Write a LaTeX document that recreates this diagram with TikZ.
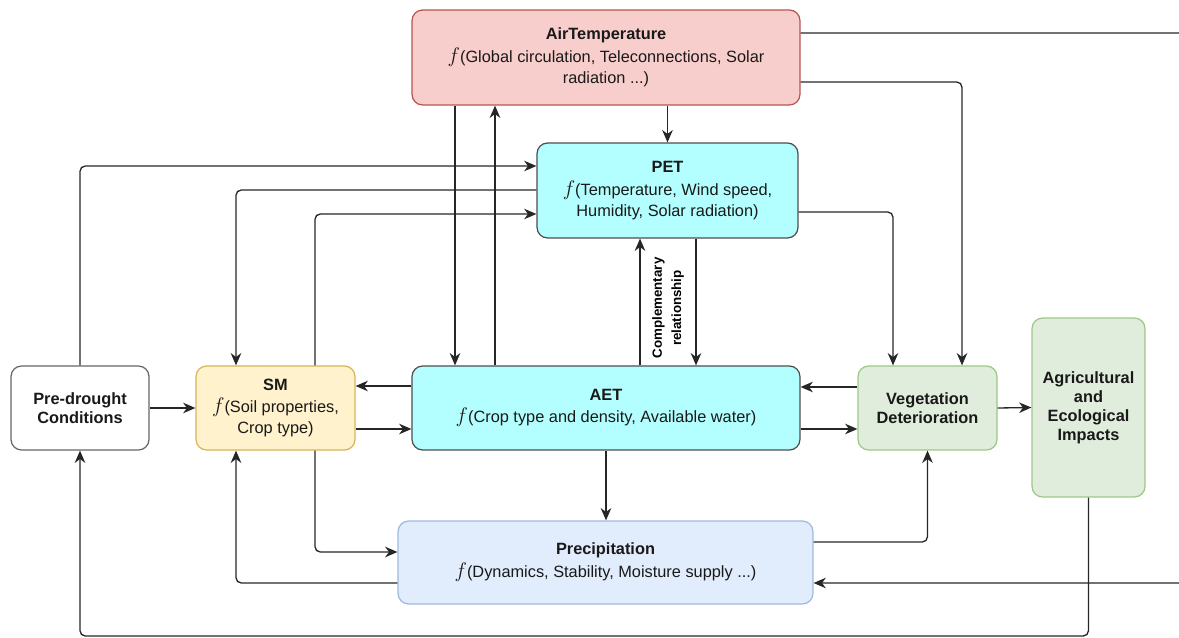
\documentclass[tikz,border=0pt]{standalone}
\usepackage{fontspec}
\setmainfont{Liberation Sans}
\usetikzlibrary{arrows.meta}

\definecolor{tempfill}{HTML}{F8CECC}
\definecolor{templine}{HTML}{B85450}
\definecolor{etfill}{HTML}{B3FFFF}
\definecolor{etline}{HTML}{4D4D4D}
\definecolor{smfill}{HTML}{FFF2CC}
\definecolor{smline}{HTML}{D6B656}
\definecolor{vegfill}{HTML}{E1EDDC}
\definecolor{vegline}{HTML}{9CC786}
\definecolor{precfill}{HTML}{E1ECFC}
\definecolor{precline}{HTML}{9FB8DF}

\newcommand{\fn}{{\fontsize{12.5}{11.5}\selectfont$f$}}

\begin{document}
\begin{tikzpicture}[x=0.02cm,y=-0.02cm,
  box/.style={draw, rounded corners=6pt, line width=0.7pt, align=center, inner sep=0pt,
    text=black!90, font=\fontsize{9.3}{12}\selectfont},
  link/.style={->,>={Stealth[length=7pt,width=6pt,inset=2.2pt]}, line width=0.75pt, rounded corners=3pt, black!85}]
\useasboundingbox (0,0) rectangle (1179,638);
\clip (0,0) rectangle (1179,638);

% boxes
\node[box, fill=tempfill, draw=templine, minimum width=7.76cm, minimum height=1.9cm] (airtemp) at (606,57.5)
  {\textbf{AirTemperature}\\[1pt] \fn(Global circulation, Teleconnections, Solar\\radiation ...)};
\node[box, fill=etfill, draw=etline, minimum width=5.22cm, minimum height=1.9cm] (pet) at (667.5,190.5)
  {\textbf{PET}\\[1pt] \fn(Temperature, Wind speed,\\Humidity, Solar radiation)};
\node[box, fill=white, draw=black!60, minimum width=2.76cm, minimum height=1.68cm,
  font=\fontsize{9.3}{10.8}\selectfont] (predrought) at (80,408)
  {\textbf{Pre-drought}\\\textbf{Conditions}};
\node[box, fill=smfill, draw=smline, minimum width=3.18cm, minimum height=1.68cm] (sm) at (275.5,408)
  {\textbf{SM}\\[1pt] \fn(Soil properties,\\Crop type)};
\node[box, fill=etfill, draw=etline, minimum width=7.76cm, minimum height=1.68cm] (aet) at (606,408)
  {\textbf{AET}\\[1pt] \fn(Crop type and density, Available water)};
\node[box, fill=vegfill, draw=vegline, minimum width=2.78cm, minimum height=1.68cm,
  font=\fontsize{9.3}{10.8}\selectfont] (veg) at (927.5,408)
  {\textbf{Vegetation}\\\textbf{Deterioration}};
\node[box, fill=vegfill, draw=vegline, minimum width=2.26cm, minimum height=3.58cm,
  font=\fontsize{9.3}{10.8}\selectfont] (impacts) at (1088.5,407.5)
  {\textbf{Agricultural}\\\textbf{and}\\\textbf{Ecological}\\\textbf{Impacts}};
\node[box, fill=precfill, draw=precline, minimum width=8.3cm, minimum height=1.66cm] (precip) at (605.5,562.5)
  {\textbf{Precipitation}\\[1pt] \fn(Dynamics, Stability, Moisture supply ...)};
\node[rotate=90, align=center, font=\fontsize{7.6}{11}\selectfont\bfseries, text=black] (complabel) at (668,308)
  {Complementary\\relationship};

\coordinate (toprail) at (1195,300);
\coordinate (bottomrail) at (600,636);

% air temperature links
\draw[link] (airtemp.south -| pet.north) -- (pet.north);
\draw[link] (455,0 |- airtemp.south) -- (455,0 |- aet.north);
\draw[link] (495,0 |- aet.north) -- (495,0 |- airtemp.south);
\draw[link] (airtemp.east |- 0,33) -| (toprail) |- (precip.east |- 0,583);
\draw[link] (airtemp.east |- 0,82) -| (962,0 |- veg.north);

% PET links
\draw[link] (predrought.north) |- (pet.west |- 0,166);
\draw[link] (pet.west |- 0,190) -| (236,0 |- sm.north);
\draw[link] (315,0 |- sm.north) |- (pet.west |- 0,214);
\draw[link] (pet.east |- 0,212) -| (893,0 |- veg.north);
\draw[link] (640,0 |- aet.north) -- (640,0 |- pet.south);
\draw[link] (696,0 |- pet.south) -- (696,0 |- aet.north);

% middle row
\draw[link] (predrought.east) -- (sm.west);
\draw[link] (aet.west |- 0,386) -- (sm.east |- 0,386);
\draw[link] (sm.east |- 0,429) -- (aet.west |- 0,429);
\draw[link] (veg.west |- 0,387) -- (aet.east |- 0,387);
\draw[link] (aet.east |- 0,429) -- (veg.west |- 0,429);
\draw[link] (veg.east) -- (impacts.west);

% precipitation links
\draw[link] (aet.south) -- (aet.south |- precip.north);
\draw[link] (315,0 |- sm.south) |- (precip.west |- 0,552);
\draw[link] (precip.west |- 0,583) -| (236,0 |- sm.south);
\draw[link] (precip.east |- 0,542) -| (veg.south);
\draw[link] (impacts.south) |- (bottomrail) -| (predrought.south);
\end{tikzpicture}
\end{document}
